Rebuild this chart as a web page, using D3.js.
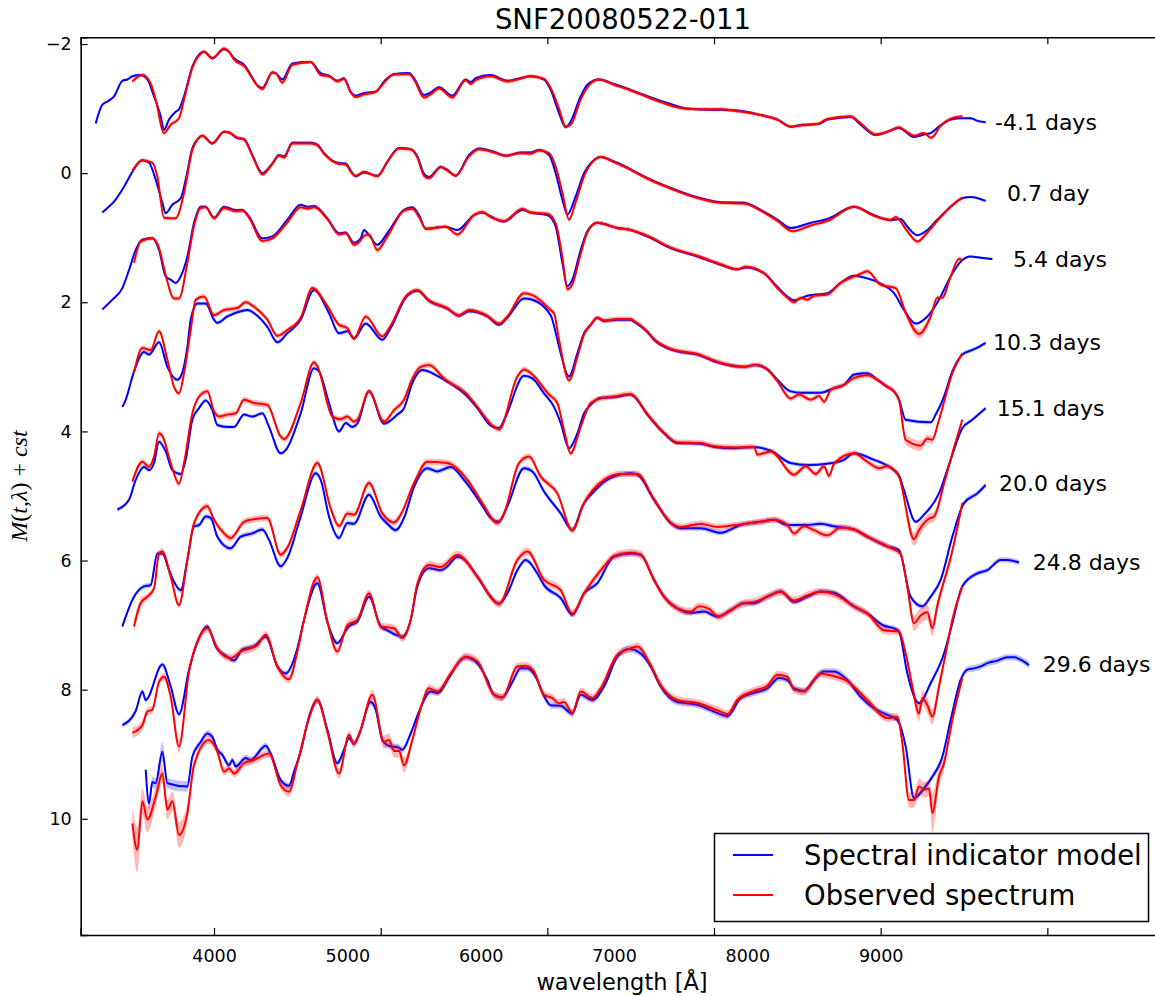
<!DOCTYPE html>
<html><head><meta charset="utf-8">
<script src="https://cdn.jsdelivr.net/npm/d3@7"></script>
<style>body{margin:0;background:#fff}svg{display:block;font-family:"DejaVu Sans",sans-serif}</style>
</head><body><svg id="c" width="1155" height="996"></svg>
<script>
const chartTitle = "SNF20080522-011";
const xAxisLabel = "wavelength [Å]";
const legendLabels = ["Spectral indicator model", "Observed spectrum"];
const phaseLabels = ["-4.1 days", "0.7 day", "5.4 days", "10.3 days", "15.1 days", "20.0 days", "24.8 days", "29.6 days"];
const labelWl = [8686, 8758, 8794, 8674, 8696, 8710, 8912, 8972];
const labelMag = [-0.78, 0.32, 1.33, 2.63, 3.64, 4.81, 6.03, 7.61];
const xTickValues = [4000, 5000, 6000, 7000, 8000, 9000];
const yTickValues = [-2, 0, 2, 4, 6, 8, 10];
const modelErrDefault = [0.02, 0.02, 0.02, 0.03, 0.03, 0.04, 0.04, 0.05];
const obsErrDefault = [0.03, 0.03, 0.035, 0.04, 0.045, 0.05, 0.06, 0.06];

// [wavelength, magnitude(, error)]
const model1 = [[3290,-0.77],[3330,-1.06],[3360,-1.11],[3400,-1.19],[3450,-1.43],[3480,-1.45],[3510,-1.50],[3560,-1.52],[3600,-1.45],[3640,-1.19],[3680,-0.88],[3700,-0.67],[3730,-0.83],[3770,-0.95],[3790,-0.99],[3820,-1.19],[3870,-1.65],[3920,-1.86],[3940,-1.88],[3990,-1.78],[4060,-1.92],[4090,-1.88],[4120,-1.78],[4180,-1.68],[4270,-1.34],[4290,-1.32],[4350,-1.56],[4370,-1.55],[4410,-1.45],[4470,-1.70],[4580,-1.72],[4640,-1.55],[4690,-1.51],[4740,-1.43],[4780,-1.47],[4820,-1.26],[4850,-1.20],[4900,-1.24],[4970,-1.26],[5020,-1.42],[5080,-1.53],[5170,-1.55],[5200,-1.47],[5260,-1.21],[5300,-1.25],[5350,-1.33],[5430,-1.20],[5510,-1.45],[5540,-1.41],[5570,-1.47],[5660,-1.52],[5760,-1.43],[5820,-1.46],[5900,-1.50],[5980,-1.45],[6020,-1.29],[6070,-0.93],[6110,-0.71],[6140,-0.80],[6200,-1.19],[6240,-1.37],[6310,-1.45],[6400,-1.38],[6500,-1.29],[6560,-1.23],[6680,-1.12],[6820,-1.01],[6900,-0.99],[7040,-0.98],[7140,-0.97],[7280,-0.90],[7380,-0.83],[7460,-0.72],[7530,-0.75],[7630,-0.76],[7680,-0.83],[7820,-0.87],[7880,-0.75],[7970,-0.59],[8040,-0.64],[8110,-0.70],[8140,-0.66],[8200,-0.56],[8260,-0.60],[8300,-0.62],[8350,-0.72],[8420,-0.83],[8480,-0.85],[8540,-0.85],[8580,-0.81],[8630,-0.79]];
const obs1 = [[3510,-1.42],[3570,-1.52],[3620,-1.39],[3650,-1.14],[3700,-0.62],[3740,-0.75],[3790,-0.85],[3820,-1.14],[3870,-1.63],[3920,-1.85],[3940,-1.88],[3990,-1.78],[4060,-1.93],[4090,-1.88],[4120,-1.76],[4180,-1.66],[4270,-1.33],[4290,-1.30],[4350,-1.56],[4370,-1.55],[4410,-1.40],[4470,-1.68],[4580,-1.72],[4640,-1.52],[4690,-1.50],[4740,-1.42],[4780,-1.46],[4820,-1.25],[4850,-1.18],[4900,-1.22],[4970,-1.26],[5020,-1.40],[5080,-1.53],[5170,-1.53],[5200,-1.45],[5260,-1.17],[5300,-1.22],[5350,-1.31],[5430,-1.17],[5510,-1.44],[5540,-1.38],[5570,-1.44],[5660,-1.50],[5760,-1.42],[5820,-1.45],[5900,-1.50],[5980,-1.46],[6020,-1.32],[6070,-1.00],[6110,-0.72],[6140,-0.75],[6200,-1.14],[6240,-1.33],[6310,-1.45],[6400,-1.37],[6500,-1.28],[6560,-1.22],[6680,-1.10],[6820,-1.00],[6900,-0.99],[7040,-0.99],[7140,-0.96],[7280,-0.90],[7380,-0.83],[7460,-0.72],[7530,-0.74],[7630,-0.77],[7680,-0.84],[7820,-0.88],[7880,-0.77],[7970,-0.60],[8040,-0.64],[8110,-0.71],[8140,-0.67],[8200,-0.58],[8260,-0.62],[8300,-0.55],[8320,-0.58],[8350,-0.70],[8420,-0.84],[8490,-0.88]];

const model2 = [[3330,0.61],[3360,0.54],[3400,0.44],[3460,0.21],[3510,-0.02],[3570,-0.20],[3610,-0.16],[3650,0.10],[3690,0.46],[3710,0.62],[3750,0.49],[3800,0.39],[3830,0.10],[3870,-0.39],[3900,-0.52],[3930,-0.58],[3990,-0.46],[4060,-0.64],[4090,-0.63],[4140,-0.54],[4180,-0.53],[4230,-0.28],[4290,0.00],[4350,-0.15],[4390,-0.28],[4420,-0.26],[4470,-0.47],[4580,-0.47],[4620,-0.44],[4660,-0.31],[4740,-0.16],[4790,-0.15],[4830,0.00],[4850,0.05],[4900,-0.01],[4980,0.04],[5040,-0.18],[5110,-0.39],[5180,-0.37],[5220,-0.26],[5260,0.01],[5290,0.06],[5360,-0.10],[5400,-0.05],[5450,0.04],[5530,-0.28],[5590,-0.38],[5680,-0.33],[5750,-0.27],[5840,-0.32],[5900,-0.32],[5950,-0.36],[6010,-0.28],[6050,0.00],[6090,0.41],[6120,0.64],[6170,0.36],[6220,0.00],[6270,-0.18],[6320,-0.25],[6400,-0.18],[6500,-0.06],[6580,0.05],[6740,0.23],[6880,0.36],[7040,0.45],[7180,0.46],[7280,0.57],[7380,0.72],[7460,0.85],[7580,0.77],[7690,0.70],[7840,0.52],[7960,0.65],[8060,0.73],[8120,0.71],[8160,0.83],[8220,0.96],[8280,0.88],[8340,0.72],[8420,0.52],[8490,0.39],[8540,0.37],[8630,0.43]];
const obs2 = [[3510,-0.04],[3570,-0.20],[3630,-0.16],[3660,0.05],[3700,0.69],[3770,0.70],[3820,0.31],[3870,-0.36],[3900,-0.52],[3930,-0.58],[3990,-0.46],[4060,-0.64],[4090,-0.63],[4140,-0.55],[4180,-0.52],[4230,-0.27],[4290,0.02],[4350,-0.14],[4390,-0.27],[4420,-0.24],[4470,-0.46],[4580,-0.46],[4620,-0.43],[4660,-0.30],[4740,-0.15],[4790,-0.13],[4830,0.01],[4850,0.04],[4900,-0.02],[4980,0.05],[5040,-0.17],[5110,-0.38],[5180,-0.37],[5220,-0.24],[5260,0.04],[5290,0.08],[5360,-0.09],[5400,-0.04],[5450,0.04],[5530,-0.26],[5590,-0.37],[5680,-0.32],[5750,-0.27],[5840,-0.31],[5900,-0.30],[5950,-0.35],[6010,-0.31],[6050,-0.10],[6090,0.30],[6130,0.72],[6170,0.45],[6220,0.05],[6270,-0.17],[6320,-0.25],[6400,-0.17],[6500,-0.05],[6580,0.06],[6740,0.24],[6880,0.37],[7040,0.46],[7180,0.47],[7280,0.58],[7380,0.74],[7470,0.90],[7580,0.81],[7690,0.73],[7840,0.52],[7960,0.66],[8060,0.72],[8090,0.68],[8160,0.90],[8220,1.06],[8280,0.92],[8340,0.74],[8420,0.52],[8490,0.38]];

const model3 = [[3330,2.11],[3390,1.96],[3450,1.78],[3490,1.50],[3530,1.19],[3570,1.03],[3630,1.01],[3670,1.19],[3710,1.60],[3740,1.65],[3770,1.70],[3800,1.60],[3840,1.29],[3880,0.77],[3920,0.52],[3950,0.52],[4000,0.69],[4060,0.52],[4130,0.57],[4170,0.57],[4210,0.67],[4290,1.01],[4350,0.98],[4440,0.72],[4520,0.49],[4560,0.52],[4600,0.51],[4680,0.70],[4750,0.93],[4790,0.92],[4840,1.08],[4880,1.01],[4900,0.88],[4930,0.96],[4980,1.11],[5040,0.93],[5140,0.57],[5190,0.53],[5230,0.65],[5270,0.86],[5390,0.83],[5460,0.88],[5560,0.65],[5610,0.61],[5660,0.67],[5740,0.75],[5850,0.57],[5900,0.61],[6000,0.65],[6050,0.83],[6090,1.39],[6120,1.75],[6150,1.65],[6200,1.19],[6240,0.90],[6300,0.77],[6420,0.85],[6500,0.88],[6600,0.98],[6740,1.16],[6900,1.29],[7040,1.42],[7140,1.49],[7190,1.46],[7300,1.55],[7380,1.76],[7440,1.91],[7480,1.97],[7560,1.90],[7680,1.86],[7760,1.70],[7840,1.59],[7920,1.63],[8000,1.71],[8080,1.86],[8140,2.12],[8210,2.33],[8280,2.22],[8350,1.96],[8420,1.60],[8480,1.37],[8540,1.29],[8600,1.31],[8670,1.33]];
const obs3 = [[3520,1.39],[3560,1.06],[3630,1.01],[3670,1.16],[3710,1.58],[3760,1.94],[3790,1.94],[3840,1.39],[3880,0.82],[3920,0.54],[3950,0.53],[4000,0.70],[4060,0.54],[4130,0.59],[4170,0.58],[4210,0.69],[4290,1.05],[4350,1.01],[4440,0.76],[4520,0.53],[4560,0.55],[4600,0.53],[4680,0.71],[4750,0.95],[4790,0.93],[4840,1.11],[4880,1.04],[4900,0.97],[4930,0.95],[4980,1.19,0.05],[5040,0.98],[5140,0.58],[5190,0.55],[5230,0.68],[5270,0.86],[5390,0.83],[5460,0.95],[5560,0.65],[5610,0.60],[5660,0.68],[5740,0.74],[5850,0.55],[5900,0.61],[6000,0.63],[6050,0.78],[6090,1.30],[6120,1.80],[6150,1.72],[6200,1.25],[6240,0.92],[6300,0.77],[6420,0.85],[6500,0.88],[6600,0.97],[6740,1.15],[6900,1.28],[7040,1.41],[7140,1.49],[7190,1.45],[7300,1.55],[7380,1.78],[7440,1.93],[7480,2.00],[7520,1.93],[7560,1.96],[7600,1.90],[7680,1.88],[7760,1.70],[7840,1.60],[7870,1.57],[7920,1.52],[8000,1.73],[8090,1.78],[8150,2.16,0.06],[8230,2.49,0.07],[8300,2.22,0.06],[8340,1.93],[8370,1.93],[8420,1.60],[8470,1.33],[8490,1.35]];

const model4 = [[3450,3.62],[3470,3.51],[3520,3.07],[3580,2.77],[3610,2.81],[3670,2.62],[3720,3.00],[3780,3.20],[3800,3.15],[3840,2.69],[3860,2.27],[3900,2.02],[3950,2.02],[4000,2.27],[4020,2.32],[4080,2.22],[4160,2.14],[4200,2.12],[4260,2.21],[4320,2.38],[4380,2.62],[4440,2.48],[4520,2.27],[4600,1.81],[4690,2.17],[4750,2.48],[4800,2.45],[4840,2.56],[4910,2.33],[5010,2.58],[5060,2.40],[5150,1.93],[5220,1.82],[5290,1.98],[5400,2.10],[5470,2.21],[5530,2.14],[5640,2.22],[5710,2.35],[5760,2.24],[5860,1.94],[5910,1.96],[6020,2.20],[6060,2.58],[6080,2.79],[6130,3.15],[6180,2.79],[6220,2.48],[6260,2.35],[6300,2.24],[6340,2.29],[6420,2.27],[6500,2.27],[6520,2.30],[6600,2.46],[6640,2.58],[6720,2.71],[6780,2.76],[6900,2.81],[7020,2.93],[7180,3.00],[7250,2.97],[7320,3.04],[7380,3.20],[7460,3.38],[7520,3.40],[7640,3.40],[7720,3.33],[7780,3.28],[7840,3.12],[7920,3.10],[7980,3.20],[8040,3.31],[8080,3.38],[8110,3.51],[8150,3.82],[8300,3.86],[8330,3.74],[8380,3.46],[8430,3.07],[8500,2.79],[8540,2.75],[8590,2.69],[8630,2.63]];
const obs4 = [[3520,3.09],[3570,2.71],[3620,2.74],[3670,2.45],[3720,2.89],[3760,3.31],[3790,3.41],[3820,3.10],[3860,2.43],[3890,1.96],[3940,1.91],[4000,2.20],[4060,2.12],[4140,2.09],[4190,2.00],[4240,2.07],[4320,2.27],[4380,2.52],[4440,2.43],[4520,2.24],[4590,1.78],[4680,2.06],[4750,2.35],[4800,2.40],[4840,2.56],[4910,2.22],[5010,2.53],[5060,2.36],[5150,1.91],[5220,1.81],[5290,1.97],[5400,2.09],[5470,2.20],[5530,2.12],[5640,2.21],[5710,2.33],[5760,2.22],[5860,1.86],[5910,1.89],[6020,2.12],[6040,2.17],[6070,2.58],[6130,3.21],[6180,2.85],[6220,2.50],[6260,2.35],[6300,2.24],[6340,2.28],[6420,2.26],[6500,2.26],[6520,2.29],[6600,2.45],[6640,2.57],[6720,2.70],[6780,2.75],[6900,2.80],[7020,2.92],[7180,3.00],[7250,2.97],[7320,3.04],[7380,3.22],[7460,3.49],[7510,3.43],[7580,3.51],[7630,3.45],[7660,3.54],[7700,3.36],[7780,3.28],[7840,3.17],[7920,3.13],[7980,3.20],[8040,3.31],[8080,3.38],[8110,3.51],[8150,4.13,0.08],[8240,4.22,0.08],[8280,4.11,0.06],[8310,4.13,0.06],[8350,3.82],[8430,3.10],[8490,2.79]];

const model5 = [[3420,5.21],[3490,5.06],[3530,4.75],[3580,4.55],[3610,4.60],[3640,4.49],[3670,4.16],[3710,4.31],[3750,4.60],[3800,4.66],[3830,4.44],[3870,3.82],[3910,3.64],[3950,3.52],[3990,3.67],[4020,3.90],[4080,3.93],[4120,3.93],[4180,3.74],[4230,3.77],[4290,3.72],[4330,3.93],[4400,4.34],[4430,4.29],[4520,3.72],[4600,3.02],[4630,3.07],[4690,3.56],[4750,4.00],[4790,3.87],[4830,3.93],[4860,3.88],[4930,3.38],[5020,3.88],[5100,3.74],[5140,3.64],[5190,3.25],[5250,3.05],[5340,3.14],[5400,3.23],[5520,3.46],[5580,3.64],[5660,3.91],[5710,3.95],[5750,3.77],[5860,3.14],[5910,3.18],[5980,3.41],[6040,3.62],[6080,3.87],[6130,4.26],[6180,4.03],[6220,3.72],[6260,3.59],[6320,3.48],[6400,3.47],[6500,3.43],[6520,3.46],[6600,3.74],[6700,4.03],[6780,4.18],[6920,4.19],[7000,4.24],[7120,4.26],[7240,4.24],[7340,4.30],[7460,4.49],[7560,4.52],[7680,4.50],[7780,4.44],[7840,4.34],[7960,4.44],[8040,4.53],[8080,4.60],[8110,4.68],[8140,4.91],[8210,5.40],[8260,5.29],[8350,4.96],[8420,4.44],[8490,3.95],[8550,3.82],[8630,3.64]];
const obs5 = [[3510,4.78],[3570,4.47],[3610,4.55],[3640,4.39],[3670,4.03],[3690,4.07],[3740,4.49],[3790,4.81],[3820,4.49],[3870,3.72],[3920,3.43],[3960,3.38],[4000,3.69],[4030,3.77],[4080,3.74],[4130,3.72],[4180,3.51],[4240,3.56],[4320,3.59],[4400,4.08],[4420,4.12],[4520,3.56],[4600,2.93],[4620,2.99],[4710,3.77],[4760,3.81],[4800,3.77],[4840,3.85],[4860,3.82],[4930,3.38],[5020,3.85],[5080,3.67],[5140,3.51],[5190,3.18],[5240,3.00],[5290,2.97],[5380,3.18],[5520,3.43],[5580,3.62],[5680,3.93],[5710,3.97],[5820,3.15],[5860,3.04],[5910,3.12],[6010,3.43],[6060,3.56],[6100,3.98],[6140,4.34],[6200,3.93],[6260,3.56],[6320,3.49],[6400,3.46],[6500,3.42],[6520,3.45],[6600,3.73],[6700,4.02],[6780,4.17],[6920,4.18],[7000,4.23],[7120,4.25],[7240,4.24],[7260,4.36],[7340,4.31],[7480,4.67],[7550,4.54],[7610,4.66],[7660,4.54],[7690,4.69],[7720,4.50],[7840,4.34],[7920,4.47],[7990,4.57],[8040,4.54],[8080,4.60],[8110,4.70],[8200,5.67,0.1],[8230,5.53,0.1],[8290,5.35,0.08],[8320,5.32,0.08],[8380,4.81],[8430,4.34],[8490,3.82]];

const model6 = [[3450,7.02],[3520,6.56],[3580,6.40],[3620,6.38],[3660,5.89],[3690,5.89],[3730,6.15],[3760,6.33],[3800,6.46],[3840,5.99],[3880,5.47],[3910,5.45],[3950,5.32],[3980,5.34],[4020,5.63],[4100,5.81],[4160,5.63],[4230,5.58],[4290,5.52],[4330,5.68],[4400,6.09],[4440,5.96],[4520,5.32],[4610,4.65],[4640,4.75],[4690,5.32],[4750,5.65],[4800,5.42],[4840,5.43],[4930,4.98],[5000,5.32],[5040,5.43],[5090,5.53],[5140,5.34],[5200,4.86],[5280,4.57],[5340,4.62],[5420,4.55],[5500,4.75],[5600,5.11],[5660,5.34],[5710,5.40],[5760,5.16],[5860,4.57],[5910,4.62],[5980,4.93],[6080,5.27],[6150,5.53],[6210,5.16],[6280,4.93],[6380,4.72],[6500,4.65],[6540,4.67],[6640,5.06],[6740,5.42],[6800,5.50],[6920,5.50],[7040,5.57],[7160,5.45],[7280,5.40],[7360,5.37],[7440,5.45],[7560,5.45],[7640,5.43],[7720,5.47],[7840,5.52],[7920,5.63],[8040,5.78],[8110,5.84],[8180,6.56],[8250,6.71],[8300,6.56],[8360,6.30],[8430,5.63],[8500,5.11],[8580,4.96],[8630,4.83]];
const obs6 = [[3520,7.02,0.1],[3560,6.66,0.08],[3600,6.56],[3640,6.43],[3670,5.89],[3690,5.86],[3740,6.25],[3790,6.69],[3840,5.99],[3880,5.42],[3960,5.16],[4000,5.37],[4040,5.52],[4100,5.65],[4180,5.40],[4240,5.36],[4320,5.34],[4400,5.91],[4440,5.80],[4520,5.22],[4620,4.49],[4700,5.19],[4750,5.47],[4800,5.27],[4840,5.29],[4930,4.80],[5010,5.27],[5080,5.41],[5120,5.29],[5200,4.80],[5280,4.47],[5400,4.49],[5520,4.75],[5610,5.11],[5700,5.42],[5740,5.27],[5830,4.49],[5890,4.39],[5960,4.70],[6060,4.96],[6150,5.53],[6220,5.11],[6340,4.75],[6440,4.66],[6540,4.66],[6640,5.05],[6740,5.41],[6800,5.48],[6920,5.43],[7020,5.48],[7160,5.44],[7280,5.40],[7360,5.37],[7440,5.45],[7480,5.58],[7540,5.47],[7600,5.53],[7680,5.61],[7760,5.49],[7840,5.52],[7920,5.63],[8040,5.78],[8120,5.90],[8160,6.41,0.08],[8200,6.97,0.12],[8240,6.85,0.12],[8280,6.80,0.12],[8310,7.05,0.12],[8340,6.70,0.1],[8430,5.85],[8490,5.11]];

const model7 = [[3450,8.55],[3530,8.33],[3570,8.03],[3590,8.16],[3690,7.61],[3740,7.95],[3790,8.38],[3850,7.69],[3910,7.20],[3960,7.02],[4010,7.33],[4080,7.49],[4120,7.55],[4170,7.38],[4240,7.33],[4310,7.18],[4380,7.64],[4430,7.75],[4500,7.36],[4540,6.92],[4620,6.35],[4680,6.95],[4740,7.28],[4800,7.05],[4820,7.00],[4860,6.95],[4930,6.56],[5000,7.02],[5040,7.08],[5090,7.15],[5130,7.18],[5180,6.92],[5220,6.40],[5290,6.12],[5360,6.15],[5400,6.09],[5460,5.94],[5500,5.98],[5580,6.25],[5660,6.56],[5710,6.67],[5760,6.51],[5820,6.15],[5870,5.99],[5940,6.20],[5980,6.38],[6080,6.58],[6150,6.84],[6220,6.51],[6300,6.35],[6400,5.94],[6500,5.89],[6560,5.91],[6640,6.30],[6700,6.56],[6780,6.74],[6860,6.81],[6940,6.79],[7020,6.87],[7100,6.77],[7180,6.66],[7240,6.66],[7320,6.56],[7400,6.48],[7480,6.64],[7560,6.56],[7640,6.48],[7720,6.50],[7840,6.71],[7920,6.82],[8020,7.01],[8080,7.05],[8110,7.10],[8160,7.75],[8230,8.21],[8300,7.90],[8380,7.44],[8430,6.97],[8490,6.40],[8580,6.20],[8640,6.15],[8720,5.99],[8760,5.99],[8830,6.03]];
const obs7 = [[3510,8.67,0.08],[3570,8.55,0.08],[3600,8.34],[3630,8.31],[3670,7.88],[3700,7.80],[3740,8.11],[3790,8.88,0.1],[3850,7.72],[3910,7.20],[3960,7.05],[4020,7.36],[4100,7.51],[4160,7.41],[4260,7.31],[4310,7.15],[4380,7.64],[4450,7.84],[4500,7.41],[4540,6.92],[4620,6.26],[4680,6.95],[4740,7.41],[4800,7.00],[4860,6.92],[4930,6.51],[5000,7.02],[5080,7.05],[5130,7.20],[5180,6.92],[5220,6.36],[5290,6.07],[5360,6.10],[5460,5.91],[5580,6.25],[5710,6.67],[5820,5.99],[5880,5.86],[5980,6.30],[6080,6.46],[6150,6.82],[6220,6.51],[6340,6.09],[6400,5.93],[6500,5.88],[6560,5.91],[6640,6.30],[6700,6.56],[6780,6.74],[6860,6.79],[6910,6.71],[6970,6.75],[7030,6.87],[7100,6.77],[7180,6.66],[7240,6.64],[7320,6.56],[7400,6.48],[7480,6.62],[7560,6.54],[7640,6.48],[7720,6.52],[7840,6.71],[7920,6.82],[8020,7.08],[8110,7.10],[8150,7.44],[8190,7.95,0.1],[8230,8.37,0.12],[8250,8.13,0.12],[8280,8.24,0.12],[8310,8.42,0.12],[8350,7.95,0.1],[8390,7.44],[8430,6.92],[8490,6.40]];

const model8 = [[3590,9.24,0.1],[3610,9.76,0.1],[3630,9.43,0.08],[3650,9.45,0.08],[3690,8.96,0.15],[3720,9.45,0.08],[3840,9.50,0.08],[3870,9.04],[3920,8.81],[3960,8.68],[3990,8.73],[4020,8.93],[4050,9.01],[4090,9.17],[4110,9.09],[4130,9.19],[4190,9.06],[4220,9.09],[4310,8.87],[4340,8.99],[4400,9.40],[4450,9.49],[4480,9.27],[4520,8.96],[4570,8.42],[4620,8.16],[4680,8.62],[4740,9.14],[4780,8.93],[4810,8.75],[4840,8.84],[4870,8.70],[4940,8.19],[4970,8.31],[5010,8.78],[5060,8.88],[5100,8.89],[5130,8.93],[5180,8.68],[5230,8.34],[5300,8.03],[5340,8.05],[5420,7.77],[5470,7.57],[5510,7.50],[5580,7.59],[5640,7.85],[5680,8.08],[5730,8.12],[5790,7.88],[5840,7.67],[5880,7.67],[5930,7.80],[5980,8.10],[6020,8.24],[6080,8.25],[6150,8.37],[6200,8.08],[6270,8.16],[6340,7.95],[6420,7.49],[6490,7.37],[6560,7.44],[6620,7.64],[6680,7.95],[6780,8.19],[6840,8.21],[6920,8.25],[7000,8.34],[7080,8.41],[7160,8.13],[7240,8.05],[7320,7.98],[7390,7.82],[7440,7.85],[7480,7.98],[7540,8.02],[7600,7.85],[7660,7.72],[7720,7.72],[7800,7.85],[7880,8.11],[7960,8.29],[8040,8.39],[8100,8.47],[8150,8.88],[8200,9.68],[8260,9.53],[8310,9.35],[8370,9.04],[8420,8.47],[8480,7.85],[8520,7.69],[8560,7.67],[8600,7.64],[8640,7.59],[8700,7.55],[8760,7.50],[8800,7.50],[8850,7.55],[8890,7.62]];
const obs8 = [[3510,10.07,0.25],[3540,10.48,0.35],[3570,9.73,0.2],[3600,10.01,0.2],[3650,9.66,0.15],[3690,9.30,0.15],[3720,9.86,0.15],[3750,9.73,0.15],[3790,10.25,0.2],[3840,9.91,0.15],[3880,9.17,0.08],[3970,8.78],[4020,8.96],[4060,9.27],[4090,9.22],[4120,9.30],[4180,9.14],[4240,9.09],[4330,8.99],[4400,9.48],[4450,9.58,0.08],[4500,9.14],[4570,8.44],[4620,8.16],[4680,8.65],[4750,9.30,0.08],[4810,8.70],[4840,8.84],[4880,8.62],[4950,8.08,0.08],[5020,8.81,0.1],[5050,8.78,0.1],[5080,8.95,0.1],[5110,8.95,0.1],[5140,9.17,0.12],[5190,8.78],[5240,8.29],[5290,7.98],[5340,8.03],[5420,7.75],[5510,7.49],[5580,7.56],[5680,8.08],[5730,8.12],[5820,7.64],[5870,7.63],[5920,7.72],[5980,8.08],[6030,8.13],[6070,8.21],[6100,8.19],[6150,8.36],[6200,8.03],[6270,8.13],[6320,7.98],[6420,7.46],[6500,7.36],[6540,7.33],[6620,7.62],[6680,7.93],[6780,8.16],[6920,8.22],[7000,8.30],[7040,8.34],[7080,8.38],[7140,8.16],[7240,8.02],[7320,7.94],[7380,7.77],[7440,7.80],[7480,8.00],[7540,8.03],[7640,7.75],[7680,7.77],[7800,7.87],[7920,8.16],[8040,8.44],[8100,8.42],[8130,8.83],[8170,9.71,0.12],[8200,9.71,0.12],[8230,9.50,0.12],[8260,9.55,0.12],[8290,9.53,0.12],[8310,9.91,0.3],[8350,9.35,0.15],[8380,9.14,0.1],[8430,8.47],[8490,7.82]];

const models = [model1, model2, model3, model4, model5, model6, model7, model8];
const observed = [obs1, obs2, obs3, obs4, obs5, obs6, obs7, obs8];

// ---------- drawing ----------
const svg = d3.select("#c");
const x = d3.scaleLinear().domain([3200, 9700]).range([80.7, 1164]);
const y = d3.scaleLinear().domain([-2.104, 11.8]).range([37.3, 935]);
// tick labels are laid out at their own spacing in the reference figure
const xLabelScale = d3.scaleLinear().domain([4000, 9000]).range([x(4000), x(8000)]);

svg.append("defs").append("clipPath").attr("id", "clip")
  .append("rect").attr("x", x.range()[0]).attr("y", y.range()[0])
  .attr("width", x.range()[1] - x.range()[0]).attr("height", y.range()[1] - y.range()[0]);

const plot = svg.append("g").attr("clip-path", "url(#clip)");
const BLUE = "#0000ff", RED = "#ff0000";
const curve = d3.curveMonotoneX;

models.forEach((mod, i) => {
  const obs = observed[i];
  const me = d => d.length > 2 ? d[2] : modelErrDefault[i];
  const oe = d => d.length > 2 ? d[2] : obsErrDefault[i];
  const aM = d3.area().curve(curve).x(d => x(d[0])).y0(d => y(d[1] - me(d))).y1(d => y(d[1] + me(d)));
  const aO = d3.area().curve(curve).x(d => x(d[0])).y0(d => y(d[1] - oe(d))).y1(d => y(d[1] + oe(d)));
  const ln = d3.line().curve(curve).x(d => x(d[0])).y(d => y(d[1]));
  plot.append("path").attr("d", aM(mod)).attr("fill", BLUE).attr("fill-opacity", 0.25);
  plot.append("path").attr("d", ln(mod)).attr("fill", "none").attr("stroke", BLUE)
    .attr("stroke-width", 2).attr("stroke-linejoin", "round");
  plot.append("path").attr("d", aO(obs)).attr("fill", RED).attr("fill-opacity", 0.28);
  plot.append("path").attr("d", ln(obs)).attr("fill", "none").attr("stroke", RED)
    .attr("stroke-width", 2).attr("stroke-linejoin", "round");
});

// phase labels
phaseLabels.forEach((t, i) => {
  svg.append("text").attr("x", x(labelWl[i])).attr("y", y(labelMag[i]))
    .attr("dominant-baseline", "central").attr("font-size", 22).attr("fill", "#000").text(t);
});

// axes
const TICK = 7;
const gB = svg.append("g").attr("transform", `translate(0,${y.range()[1]})`)
  .call(d3.axisBottom(x).tickValues(xTickValues).tickSize(-TICK).tickFormat(""));
const gT = svg.append("g").attr("transform", `translate(0,${y.range()[0]})`)
  .call(d3.axisTop(x).tickValues(xTickValues).tickSize(-TICK).tickFormat(""));
const gL = svg.append("g").attr("transform", `translate(${x.range()[0]},0)`)
  .call(d3.axisLeft(y).tickValues(yTickValues).tickSize(-TICK).tickPadding(9));
const gR = svg.append("g").attr("transform", `translate(${x.range()[1]},0)`)
  .call(d3.axisRight(y).tickValues(yTickValues).tickSize(-TICK).tickFormat(""));
const gBL = svg.append("g").attr("transform", `translate(0,${y.range()[1]})`)
  .call(d3.axisBottom(xLabelScale).tickValues(xTickValues).tickSize(0).tickPadding(15).tickFormat(d3.format("d")));
gBL.select(".domain").remove();
[gB, gT, gL, gR].forEach(g => {
  g.select(".domain").attr("stroke", "#000").attr("stroke-width", 1.6);
  g.selectAll(".tick line").attr("stroke", "#000").attr("stroke-width", 1.2);
});
[gL, gBL].forEach(g => g.selectAll("text").attr("font-size", 17.5).attr("fill", "#000")
  .attr("font-family", "DejaVu Sans"));

// title and axis labels
svg.append("text").attr("x", 623).attr("y", 29).attr("text-anchor", "middle")
  .attr("font-size", 27.5).text(chartTitle);
svg.append("text").attr("x", 622).attr("y", 990).attr("text-anchor", "middle")
  .attr("font-size", 22.5).text(xAxisLabel);
const yl = svg.append("text").attr("transform", "translate(27,486) rotate(-90)")
  .attr("text-anchor", "middle").attr("font-size", 24).attr("font-family", "Liberation Serif");
yl.append("tspan").attr("font-style", "italic").text("M");
yl.append("tspan").text("(");
yl.append("tspan").attr("font-style", "italic").text("t");
yl.append("tspan").text(",");
yl.append("tspan").attr("font-style", "italic").text("λ");
yl.append("tspan").text(") + ");
yl.append("tspan").attr("font-style", "italic").text("cst");

// legend
const lg = svg.append("g");
lg.append("rect").attr("x", 714.5).attr("y", 833.5).attr("width", 434).attr("height", 88)
  .attr("fill", "#fff").attr("stroke", "#000").attr("stroke-width", 1.5);
[BLUE, RED].forEach((c, i) => {
  const yy = 855 + i * 40;
  lg.append("line").attr("x1", 733).attr("x2", 773).attr("y1", yy).attr("y2", yy)
    .attr("stroke", c).attr("stroke-width", 2);
  lg.append("text").attr("x", 804).attr("y", yy).attr("dominant-baseline", "central")
    .attr("font-size", 27.5).text(legendLabels[i]);
});
</script></body></html>
